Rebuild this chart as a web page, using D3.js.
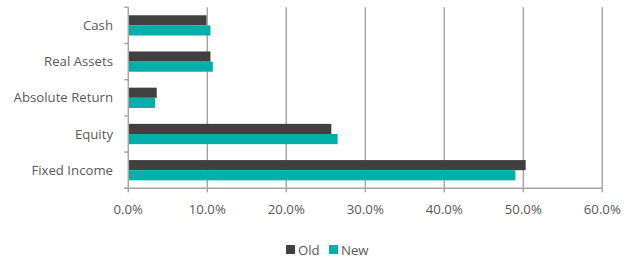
<!DOCTYPE html>
<html><head><meta charset="utf-8">
<script src="https://cdn.jsdelivr.net/npm/d3@7"></script>
<style>body{margin:0;background:#fff}text{font-family:"Open Sans",sans-serif}</style>
</head><body><svg id="c" width="627" height="259"></svg>
<script>
const categories = ["Cash","Real Assets","Absolute Return","Equity","Fixed Income"];
const seriesNames = ["Old","New"];
const oldValues = [9.9, 10.4, 3.6, 25.7, 50.3];
const newValues = [10.4, 10.7, 3.4, 26.5, 49.0];
const xTicks = [0,10,20,30,40,50,60];
const colors = ["#404040","#00afa9"];

const svg = d3.select("#c");
const L = 128.3, R = 602.3, T = 7.3, B = 188.3;
const x = d3.scaleLinear().domain([0,60]).range([L,R]);
const y = d3.scaleBand().domain(categories).range([T,B]).paddingInner(0.44).paddingOuter(0.22);
const y2 = d3.scaleBand().domain(seriesNames).range([0,y.bandwidth()]);
const gridColor = "#a6a6a6", textColor = "#595959";

// gridlines
svg.append("g").selectAll("line").data(xTicks.slice(1)).join("line")
  .attr("x1",d=>x(d)).attr("x2",d=>x(d)).attr("y1",T).attr("y2",B)
  .attr("stroke",gridColor).attr("stroke-width",1.5);

// bars
const data = categories.map((c,i)=>({c, vals:[oldValues[i], newValues[i]]}));
const g = svg.append("g").selectAll("g").data(data).join("g")
  .attr("transform",d=>`translate(0,${y(d.c)})`);
g.selectAll("rect").data(d=>d.vals.map((v,j)=>({v, s:seriesNames[j], j}))).join("rect")
  .attr("x",x(0)).attr("y",d=>y2(d.s)).attr("height",y2.bandwidth())
  .attr("width",d=>x(d.v)-x(0)).attr("fill",d=>colors[d.j]);

// y axis
const bandStep = (B-T)/categories.length;
const ya = svg.append("g");
ya.append("line").attr("x1",L).attr("x2",L).attr("y1",T).attr("y2",B).attr("stroke",gridColor).attr("stroke-width",1.5);
ya.selectAll("line.t").data(d3.range(categories.length+1)).join("line").attr("class","t")
  .attr("x1",L-4).attr("x2",L).attr("y1",i=>T+i*bandStep).attr("y2",i=>T+i*bandStep)
  .attr("stroke",gridColor).attr("stroke-width",1.5);
ya.selectAll("text").data(categories).join("text")
  .attr("x",113).attr("y",d=>y(d)+y.bandwidth()/2).attr("dy","0.35em")
  .attr("text-anchor","end").attr("fill",textColor).attr("font-size",13.2).text(d=>d);

// x axis
const xa = svg.append("g");
xa.append("line").attr("x1",L-4).attr("x2",R).attr("y1",B).attr("y2",B).attr("stroke",gridColor).attr("stroke-width",1.5);
xa.selectAll("line.t").data(xTicks).join("line").attr("class","t")
  .attr("x1",d=>x(d)).attr("x2",d=>x(d)).attr("y1",B).attr("y2",B+4)
  .attr("stroke",gridColor).attr("stroke-width",1.5);
xa.selectAll("text").data(xTicks).join("text")
  .attr("x",d=>x(d)).attr("y",209).attr("dy","0.35em").attr("text-anchor","middle")
  .attr("fill",textColor).attr("font-size",13.2).text(d=>d.toFixed(1)+"%");

// legend
const lg = svg.append("g");
const lx = [286, 329];
seriesNames.forEach((s,i)=>{
  lg.append("rect").attr("x",lx[i]).attr("y",245).attr("width",9).attr("height",9).attr("fill",colors[i]);
  lg.append("text").attr("x",lx[i]+12).attr("y",250).attr("dy","0.35em").attr("fill",textColor).attr("font-size",13.2).text(s);
});
</script></body></html>
